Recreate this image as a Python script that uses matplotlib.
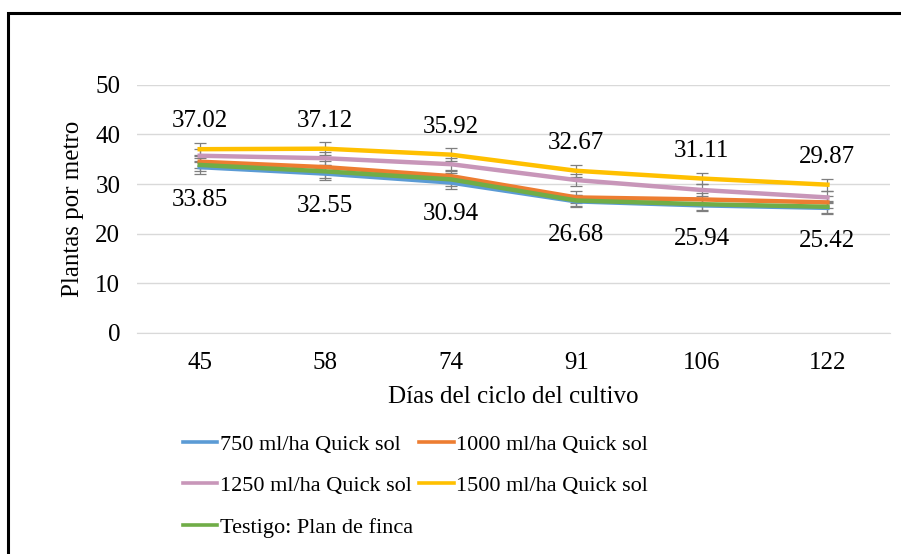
import matplotlib.pyplot as plt
from matplotlib.patches import Rectangle

# data
dias = ['45', '58', '74', '91', '106', '122']
q750 = [33.4, 32.1, 30.3, 26.5, 25.7, 25.2]
q1000 = [34.5, 33.4, 31.6, 27.3, 26.9, 26.3]
q1250 = [35.7, 35.2, 34.0, 30.8, 28.8, 27.3]
q1500 = [37.02, 37.12, 35.92, 32.67, 31.11, 29.87]
testigo = [33.85, 32.55, 30.94, 26.68, 25.94, 25.42]
err = [1.3, 1.3, 1.3, 1.2, 1.2, 1.2]

series = [
    ('750 ml/ha Quick sol', q750, '#5b9bd5'),
    ('1000 ml/ha Quick sol', q1000, '#ed7d31'),
    ('1250 ml/ha Quick sol', q1250, '#c896b9'),
    ('1500 ml/ha Quick sol', q1500, '#ffc000'),
    ('Testigo: Plan de finca', testigo, '#70ad47'),
]

plt.rcParams['font.family'] = 'Liberation Serif'
fs = 18

fig = plt.figure(figsize=(9.01, 5.54), dpi=100)
ax = fig.add_axes([0.152, 0.399, 0.836, 0.448])

x = list(range(len(dias)))
for name, vals, col in series:
    ax.errorbar(x, vals, yerr=err, color=col, lw=3.2, label=name,
                ecolor='#7f7f7f', elinewidth=0.9, capsize=4, capthick=0.9)

# data labels
for i in x:
    ax.annotate(f'{q1500[i]:.2f}', (i, q1500[i]), xytext=(0, 20), textcoords='offset points',
                ha='center', va='center', fontsize=fs)
    ax.annotate(f'{testigo[i]:.2f}', (i, testigo[i]), xytext=(0, -25), textcoords='offset points',
                ha='center', va='center', fontsize=fs)

ax.set_ylim(0, 50)
ax.set_xlim(-0.5, len(dias) - 0.5)
ax.set_yticks(range(0, 51, 10))
ax.set_xticks(x)
ax.set_xticklabels(dias)
ax.tick_params(axis='both', labelsize=fs, length=0)
ax.tick_params(axis='x', pad=14)
ax.tick_params(axis='y', pad=12)
ax.grid(axis='y', color='#d9d9d9', lw=1)
ax.set_axisbelow(True)
for s in ['top', 'right', 'left']:
    ax.spines[s].set_visible(False)
ax.spines['bottom'].set_color('#d9d9d9')

ax.set_xlabel('Días del ciclo del cultivo', fontsize=fs, labelpad=8)
ax.set_ylabel('Plantas por metro', fontsize=fs, labelpad=8)

# legend filled row by row like the original (plain lines, no error bars)
order = [0, 2, 4, 1, 3]
handles = [plt.Line2D([], [], color=series[k][2], lw=2.6) for k in order]
fig.legend(handles, [series[k][0] for k in order],
           loc='upper left', bbox_to_anchor=(183 / 901, 1 - 434 / 554), ncol=2, frameon=False,
           fontsize=16, handlelength=1.55, handletextpad=0.1, columnspacing=0.3,
           labelspacing=0.95, borderaxespad=0, borderpad=0)

# outer border
fig.patches.append(Rectangle((8 / 901, -0.1), 1.2, 1 - 12.5 / 554 + 0.1, transform=fig.transFigure,
                             fill=False, edgecolor='black', lw=2.2))

fig.savefig('out.png', dpi=100)
